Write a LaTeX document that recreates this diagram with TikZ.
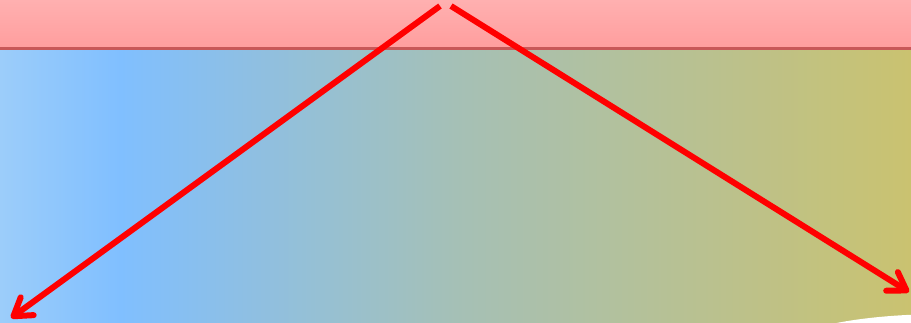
\documentclass[tikz,border=0pt]{standalone}
\usetikzlibrary{arrows.meta}
\definecolor{c0}{RGB}{156,205,250}
\definecolor{c1}{RGB}{128,191,255}
\definecolor{c2}{RGB}{165,192,182}
\definecolor{c3}{RGB}{202,194,112}
\definecolor{pinkTop}{RGB}{255,176,176}
\definecolor{pinkBot}{RGB}{255,158,158}
\definecolor{darkline}{RGB}{200,88,88}
\tikzset{
  arr/.style={draw=red, line width=6pt, -{Straight Barb[length=17pt,width=22pt,round]}},
}
\begin{document}
\begin{tikzpicture}[x=1pt,y=-1pt]
\useasboundingbox (0,0) rectangle (911,323);
\shade[left color=c0, right color=c1] (0,49) rectangle (120.5,323);
\shade[left color=c1, right color=c2] (120,49) rectangle (455.5,323);
\shade[left color=c2, right color=c3] (455,49) rectangle (911,323);
\shade[top color=pinkTop, bottom color=pinkBot] (0,0) rectangle (911,47);
\fill[darkline] (0,47) rectangle (911,50);
\fill[white] (945,348) ellipse [x radius=160, y radius=34];
\coordinate (s1) at (440,6);
\coordinate (e1) at (11,318);
\coordinate (s2) at (451,6);
\coordinate (e2) at (909,292);
\draw[arr] (s1) -- (e1);
\draw[arr] (s2) -- (e2);
\end{tikzpicture}
\end{document}
